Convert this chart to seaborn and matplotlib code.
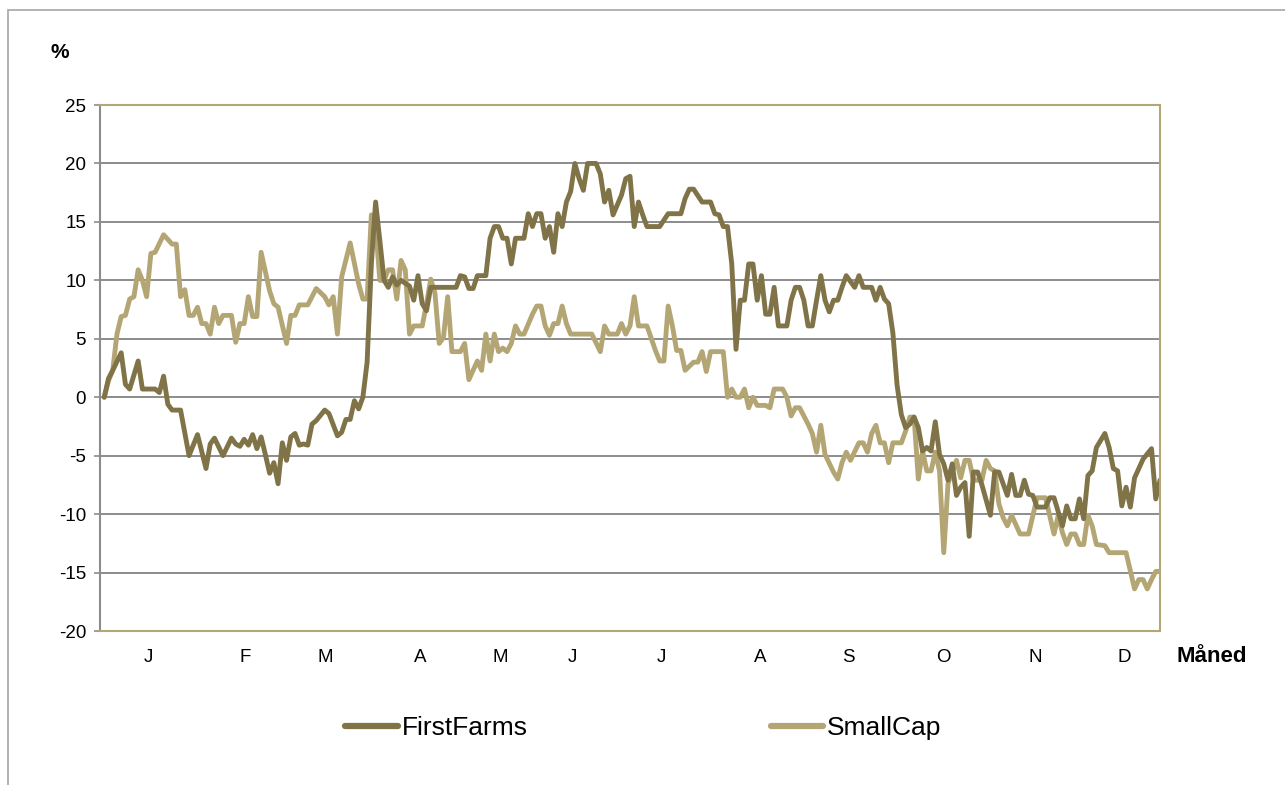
"""
FirstFarms mod SmallCap, procentvis udvikling over året.
"""

import matplotlib
matplotlib.use("Agg")
import matplotlib.pyplot as plt
import pandas as pd
import seaborn as sns
from matplotlib.lines import Line2D
from matplotlib.patches import Rectangle

# handelsdag og afkast i procent
ff_dag = [0, 1, 2, 4, 5, 6, 8, 9, 10, 12, 13, 14, 15, 16, 18, 20, 22, 24, 25, 26,
          28, 30, 31, 32, 33, 34, 35, 36, 37, 38, 39, 40, 41, 42, 43, 44, 45, 46, 47, 48,
          49, 50, 52, 53, 55, 56, 57, 58, 59, 60, 61, 62, 63, 64, 65, 66, 67, 68, 69, 70,
          72, 73, 74, 75, 76, 77, 83, 84, 85, 86, 87, 88, 90, 91, 92, 93, 94, 95, 96, 97,
          99, 100, 101, 102, 103, 104, 105, 106, 107, 108, 109, 110, 111, 112, 113, 114, 116, 117, 118, 119,
          120, 122, 123, 124, 125, 126, 127, 128, 131, 133, 136, 137, 138, 139, 141, 143, 144, 145, 146, 147,
          148, 149, 150, 151, 152, 153, 154, 155, 156, 157, 158, 159, 161, 162, 163, 164, 165, 166, 167, 168,
          169, 170, 171, 172, 173, 174, 175, 177, 178, 179, 181, 182, 183, 184, 185, 186, 187, 188, 189, 190,
          191, 192, 193, 194, 195, 196, 197, 198, 199, 200, 201, 202, 203, 204, 205, 206, 207, 209, 210, 211,
          212, 213, 214, 215, 216, 217, 218, 219, 220, 222, 223, 224, 226, 227, 228, 229, 230, 231, 232, 233,
          234, 236, 237, 238, 239, 240, 241, 242, 243, 244, 245, 247, 248, 249]
ff_pct = [0.0, 1.6, 2.3, 3.8, 1.1, 0.7, 3.1, 0.7, 0.7, 0.7, 0.4, 1.8, -0.6, -1.1, -1.1, -5.0, -3.2, -6.1, -4.0, -3.5,
          -5.0, -3.5, -4.0, -4.2, -3.6, -4.1, -3.2, -4.4, -3.4, -4.9, -6.5, -5.6, -7.4, -3.9, -5.4, -3.4, -3.1, -4.1, -4.0, -4.1,
          -2.3, -2.0, -1.1, -1.4, -3.3, -3.0, -1.9, -1.9, -0.3, -1.0, 0.0, 3.0, 11.4, 16.7, 13.4, 10.0, 9.4, 10.3, 9.6, 10.0,
          9.5, 8.3, 10.4, 8.0, 7.4, 9.4, 9.4, 10.4, 10.3, 9.3, 9.3, 10.4, 10.4, 13.6, 14.6, 14.6, 13.6, 13.6, 11.4, 13.6,
          13.6, 15.7, 14.6, 15.7, 15.7, 13.6, 14.6, 12.4, 15.7, 14.6, 16.7, 17.6, 20.0, 18.7, 17.7, 20.0, 20.0, 19.1, 16.7, 17.7,
          15.6, 17.3, 18.7, 18.9, 14.6, 16.7, 15.6, 14.6, 14.6, 15.7, 15.7, 17.0, 17.8, 17.8, 16.7, 16.7, 15.7, 15.6, 14.6, 14.6,
          11.4, 4.1, 8.3, 8.3, 11.4, 11.4, 8.3, 10.4, 7.1, 7.1, 9.4, 6.1, 6.1, 8.3, 9.4, 9.4, 8.3, 6.1, 6.1, 8.3,
          10.4, 8.3, 7.3, 8.3, 8.3, 9.4, 10.4, 9.4, 10.4, 9.4, 9.4, 8.3, 9.4, 8.4, 8.0, 5.5, 1.0, -1.5, -2.6, -2.3,
          -1.7, -2.6, -4.6, -4.3, -4.6, -2.1, -4.9, -5.7, -7.1, -5.7, -8.4, -7.7, -7.3, -11.9, -6.4, -6.4, -7.5, -10.1, -6.4, -6.4,
          -7.4, -8.4, -6.6, -8.4, -8.4, -7.1, -8.3, -8.4, -9.4, -9.4, -8.6, -8.6, -11.0, -9.3, -10.4, -10.4, -8.7, -10.4, -6.7, -6.3,
          -4.3, -3.1, -4.3, -6.1, -6.3, -9.3, -7.7, -9.4, -6.9, -6.1, -5.3, -4.4, -8.7, -7.1]

sc_dag = [0, 1, 2, 3, 4, 5, 6, 7, 8, 9, 10, 11, 12, 14, 16, 17, 18, 19, 20, 21,
          22, 23, 24, 25, 26, 27, 28, 30, 31, 32, 33, 34, 35, 36, 37, 39, 40, 41, 43, 44,
          45, 46, 48, 50, 52, 53, 54, 55, 56, 58, 60, 61, 62, 63, 64, 65, 66, 67, 68, 69,
          70, 71, 72, 73, 75, 76, 77, 78, 79, 80, 81, 82, 84, 85, 86, 88, 89, 90, 91, 92,
          93, 94, 95, 96, 97, 98, 99, 101, 102, 103, 104, 105, 106, 107, 108, 109, 110, 115, 117, 118,
          119, 121, 122, 123, 124, 125, 126, 128, 130, 131, 132, 133, 134, 135, 136, 137, 139, 140, 141, 142,
          143, 146, 147, 148, 149, 150, 151, 152, 153, 154, 156, 157, 158, 160, 161, 162, 163, 164, 166, 167,
          168, 169, 170, 172, 173, 174, 175, 176, 178, 179, 180, 181, 182, 183, 184, 185, 186, 188, 189, 190,
          191, 192, 193, 194, 195, 196, 197, 198, 199, 201, 202, 203, 204, 205, 207, 208, 209, 210, 211, 212,
          213, 214, 215, 216, 218, 220, 222, 224, 225, 226, 227, 228, 229, 230, 231, 232, 233, 234, 236, 237,
          241, 243, 244, 245, 246, 247, 248, 249]
sc_pct = [0.0, 1.4, 2.3, 5.4, 6.9, 7.0, 8.4, 8.6, 10.9, 10.0, 8.6, 12.3, 12.4, 13.9, 13.1, 13.1, 8.6, 9.2, 7.0, 7.0,
          7.7, 6.3, 6.3, 5.4, 7.7, 6.3, 7.0, 7.0, 4.7, 6.3, 6.3, 8.6, 6.9, 6.9, 12.4, 9.1, 8.0, 7.7, 4.6, 7.0,
          7.0, 7.9, 7.9, 9.3, 8.6, 7.9, 8.6, 5.4, 10.3, 13.2, 9.7, 8.4, 8.4, 15.6, 14.6, 10.0, 10.0, 10.9, 10.9, 8.4,
          11.7, 10.9, 5.4, 6.1, 6.1, 8.0, 10.1, 8.9, 4.6, 5.1, 8.6, 3.9, 3.9, 4.6, 1.5, 3.1, 2.3, 5.4, 3.1, 5.4,
          3.9, 4.2, 3.9, 4.6, 6.1, 5.4, 5.4, 7.1, 7.8, 7.8, 6.1, 5.3, 6.3, 6.3, 7.8, 6.3, 5.4, 5.4, 3.9, 6.1,
          5.4, 5.4, 6.3, 5.4, 6.1, 8.6, 6.1, 6.1, 4.0, 3.1, 3.1, 7.8, 6.1, 4.0, 4.0, 2.3, 3.0, 3.0, 3.9, 2.2,
          3.9, 3.9, 0.0, 0.7, 0.0, 0.0, 0.7, -0.9, 0.0, -0.7, -0.7, -0.9, 0.7, 0.7, 0.0, -1.6, -0.9, -0.9, -2.3, -3.1,
          -4.7, -2.4, -4.9, -6.4, -7.0, -5.6, -4.7, -5.4, -3.9, -3.9, -4.7, -3.1, -2.4, -3.9, -3.9, -5.6, -3.9, -3.9, -2.9, -1.7,
          -1.7, -7.0, -4.6, -6.3, -6.3, -4.7, -6.3, -13.3, -7.4, -5.4, -6.9, -5.4, -5.4, -7.1, -7.1, -5.4, -6.1, -6.3, -9.1, -10.3,
          -11.0, -10.1, -10.9, -11.7, -11.7, -8.6, -8.6, -11.7, -10.1, -11.6, -12.6, -11.7, -11.7, -12.6, -12.6, -10.1, -11.0, -12.6, -12.7, -13.3,
          -13.3, -16.4, -15.6, -15.6, -16.4, -15.6, -14.9, -14.9]

maaneder = ["J", "F", "M", "A", "M", "J", "J", "A", "S", "O", "N", "D"]
maaned_pos = [10.3, 33.2, 52.1, 74.5, 93.3, 110.3, 131.5, 154.7, 175.4, 197.8, 219.5, 240.5]

FARVER = {"FirstFarms": "#7f7347", "SmallCap": "#b4a674"}
KANT = "#b3a776"
GRID = "#8c8c8c"

sns.set_theme(style="white")
plt.rcParams["font.family"] = ["Liberation Sans", "DejaVu Sans"]
plt.rcParams["axes.unicode_minus"] = False
plt.rcParams["text.color"] = "black"
plt.rcParams["xtick.color"] = "black"
plt.rcParams["ytick.color"] = "black"

df = pd.concat([
    pd.DataFrame({"dag": ff_dag, "pct": ff_pct, "serie": "FirstFarms"}),
    pd.DataFrame({"dag": sc_dag, "pct": sc_pct, "serie": "SmallCap"}),
])

fig = plt.figure(figsize=(12.85, 7.85), dpi=100)
ax = fig.add_axes([100 / 1285, 1 - 631 / 785, 1060 / 1285, 526 / 785])

sns.lineplot(data=df, x="dag", y="pct", hue="serie", hue_order=["SmallCap", "FirstFarms"],
             palette=FARVER, estimator=None, sort=False, lw=3.5, ax=ax, legend=False)

ax.set_xlim(-1, 249)
ax.set_ylim(-20, 25)
ax.set_yticks(range(-20, 26, 5))
ax.set_xticks(maaned_pos)
ax.set_xticklabels(maaneder)
ax.set_xlabel("")
ax.set_ylabel("")
ax.yaxis.grid(True, color=GRID, lw=1.4)
ax.set_axisbelow(True)

for side in ["top", "right", "bottom"]:
    ax.spines[side].set_color(KANT)
    ax.spines[side].set_linewidth(1.5)
ax.spines["left"].set_color(GRID)
ax.spines["left"].set_linewidth(1.5)

ax.tick_params(axis="y", left=True, length=4, width=1.2, color=GRID, labelcolor="black",
               pad=6, labelsize=13.5)
ax.tick_params(axis="x", bottom=False, length=0, pad=13, labelcolor="black", labelsize=13.5)

fig.text(60 / 1285, 1 - 52 / 785, "%", ha="center", va="center", fontsize=15,
         fontweight="bold", color="black")
fig.text(1176 / 1285, 1 - 657 / 785, "Måned", ha="left", va="center", fontsize=16,
         fontweight="bold", color="black")

# ramme om hele diagrammet
fig.add_artist(Rectangle((8 / 1285, -0.1), 1.2, 1.1 - 10 / 785, transform=fig.transFigure,
                         fill=False, ec="#a6a6a6", lw=1.2))

handles = [Line2D([], [], color=FARVER[n], lw=4.5, solid_capstyle="round") for n in ["FirstFarms", "SmallCap"]]
fig.legend(handles, ["FirstFarms", "SmallCap"], loc="center left",
           bbox_to_anchor=(345 / 1285, 1 - 728 / 785), ncol=2, frameon=False, fontsize=19,
           handlelength=2.0, handletextpad=0.15, columnspacing=9.2, borderpad=0, borderaxespad=0,
           labelcolor="black")

fig.savefig("out.png", dpi=100)
plt.close(fig)
